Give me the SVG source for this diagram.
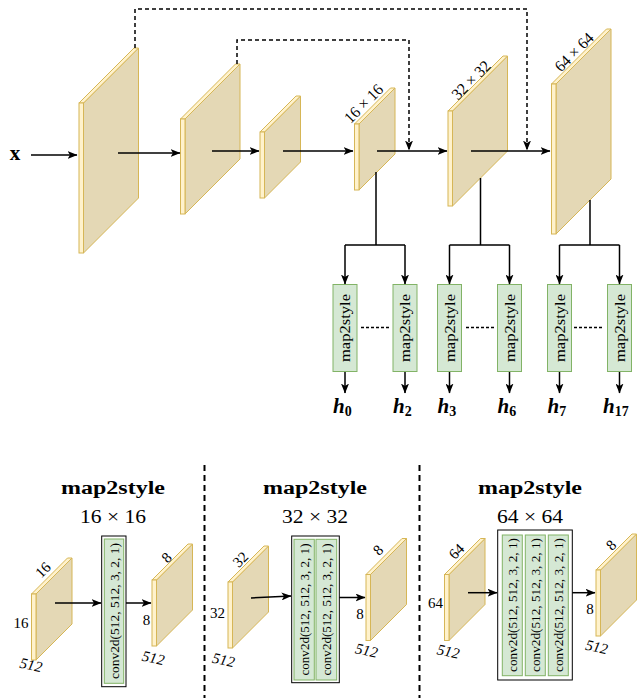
<svg xmlns="http://www.w3.org/2000/svg" width="640" height="698" viewBox="0 0 640 698">
<style>
.face{fill:#e4d8b5;stroke:#d6b656;stroke-width:1}
.strip{fill:#fff2cc;stroke:#d6b656;stroke-width:1}
.ln{fill:none;stroke:#000;stroke-width:1.5}
.arr{marker-end:url(#ah)}
.dash{stroke-dasharray:4 3}
.dot{stroke-dasharray:3 2}
.sep{fill:none;stroke:#000;stroke-width:2;stroke-dasharray:6 4}
.m2s{fill:#d5e8d4;stroke:#82b366;stroke-width:1}
.box{fill:#fff;stroke:#000;stroke-width:1}
.t{font-family:"Liberation Serif","Times New Roman",serif;fill:#000}
.rc{text-anchor:middle;dominant-baseline:central}
.hb{font-family:"Liberation Serif","Times New Roman",serif;font-weight:bold;font-style:italic;font-size:21px}
.sub{font-size:14px;font-style:normal}
</style>
<defs>
<marker id="ah" markerWidth="10" markerHeight="8" refX="9.5" refY="4" orient="auto" markerUnits="userSpaceOnUse"><path d="M0,0 L10,4 L0,8 L2.5,4 Z" fill="#000"/></marker>
<g id="bS"><polygon class="face" points="4.5,0 40.5,-36 40.5,30 4.5,66"/><polygon class="strip" points="0,0 36,-36 40.5,-36 4.5,0"/><rect class="strip" x="0" y="0" width="4.5" height="66"/></g>
<g id="bM"><polygon class="face" points="4.5,0 59.5,-55 59.5,40 4.5,95"/><polygon class="strip" points="0,0 55,-55 59.5,-55 4.5,0"/><rect class="strip" x="0" y="0" width="4.5" height="95"/></g>
<g id="bL"><polygon class="face" points="4.5,0 59.5,-55 59.5,95 4.5,150"/><polygon class="strip" points="0,0 55,-55 59.5,-55 4.5,0"/><rect class="strip" x="0" y="0" width="4.5" height="150"/></g>
</defs>

<!-- encoder blocks -->
<g id="enc1"><use href="#bL" x="79" y="103"/></g>
<g id="enc2"><use href="#bM" x="180.5" y="119"/></g>
<g id="enc3"><use href="#bS" x="260" y="132"/></g>
<g id="enc4"><use href="#bS" x="354.5" y="124"/><text class="t rc" font-size="16" textLength="48" lengthAdjust="spacingAndGlyphs" transform="translate(363.5,103.5) rotate(-45)">16 × 16</text></g>
<g id="enc5"><use href="#bM" x="448" y="111"/><text class="t rc" font-size="16" textLength="48" lengthAdjust="spacingAndGlyphs" transform="translate(471,80) rotate(-45)">32 × 32</text></g>
<g id="enc6"><use href="#bL" x="551.5" y="84"/><text class="t rc" font-size="16" textLength="48" lengthAdjust="spacingAndGlyphs" transform="translate(574,52) rotate(-45)">64 × 64</text></g>

<g id="input-x"><text class="t" font-size="21" font-weight="bold" x="15" y="160" text-anchor="middle">x</text></g>

<!-- map2style boxes -->
<g id="m0"><rect class="m2s" x="333" y="284.5" width="24" height="87"/><text class="t rc" font-size="15" textLength="68" lengthAdjust="spacingAndGlyphs" transform="translate(345,328) rotate(-90)">map2style</text></g>
<g id="m2"><rect class="m2s" x="393" y="284.5" width="24" height="87"/><text class="t rc" font-size="15" textLength="68" lengthAdjust="spacingAndGlyphs" transform="translate(405,328) rotate(-90)">map2style</text></g>
<g id="m3"><rect class="m2s" x="437.5" y="284.5" width="24" height="87"/><text class="t rc" font-size="15" textLength="68" lengthAdjust="spacingAndGlyphs" transform="translate(449.5,328) rotate(-90)">map2style</text></g>
<g id="m6"><rect class="m2s" x="497.5" y="284.5" width="24" height="87"/><text class="t rc" font-size="15" textLength="68" lengthAdjust="spacingAndGlyphs" transform="translate(509.5,328) rotate(-90)">map2style</text></g>
<g id="m7"><rect class="m2s" x="547.5" y="284.5" width="24" height="87"/><text class="t rc" font-size="15" textLength="68" lengthAdjust="spacingAndGlyphs" transform="translate(559.5,328) rotate(-90)">map2style</text></g>
<g id="m17"><rect class="m2s" x="607.5" y="284.5" width="24" height="87"/><text class="t rc" font-size="15" textLength="68" lengthAdjust="spacingAndGlyphs" transform="translate(619.5,328) rotate(-90)">map2style</text></g>

<!-- outputs -->
<g id="h0"><text class="hb" x="333" y="413">h<tspan class="sub" dy="3">0</tspan></text></g>
<g id="h2"><text class="hb" x="393" y="413">h<tspan class="sub" dy="3">2</tspan></text></g>
<g id="h3"><text class="hb" x="437.5" y="413">h<tspan class="sub" dy="3">3</tspan></text></g>
<g id="h6"><text class="hb" x="497.5" y="413">h<tspan class="sub" dy="3">6</tspan></text></g>
<g id="h7"><text class="hb" x="547.5" y="413">h<tspan class="sub" dy="3">7</tspan></text></g>
<g id="h17"><text class="hb" x="603" y="413">h<tspan class="sub" dy="3">17</tspan></text></g>

<!-- connectors -->
<g id="connectors">
<path class="ln arr" d="M31,155 H77"/>
<path class="ln arr" d="M118,153 H180"/>
<path class="ln arr" d="M212,151 H259"/>
<path class="ln arr" d="M283,151 H353"/>
<path class="ln arr" d="M377,151 H447"/>
<path class="ln arr" d="M471,151 H550"/>
<path class="ln arr dash" d="M135,48 V9 H527 V150"/>
<path class="ln arr dash" d="M237,64 V40 H409 V150"/>
<path class="ln" d="M376,172 V245 M345,245 H405 M480.5,178 V245 M449.5,245 H509.5 M590,200 V245 M559.5,245 H619.5"/>
<path class="ln arr" d="M345,245 V284"/>
<path class="ln arr" d="M405,245 V284"/>
<path class="ln arr" d="M449.5,245 V284"/>
<path class="ln arr" d="M509.5,245 V284"/>
<path class="ln arr" d="M559.5,245 V284"/>
<path class="ln arr" d="M619.5,245 V284"/>
<path class="ln arr" d="M345,372 V393"/>
<path class="ln arr" d="M405,372 V393"/>
<path class="ln arr" d="M449.5,372 V393"/>
<path class="ln arr" d="M509.5,372 V393"/>
<path class="ln arr" d="M559.5,372 V393"/>
<path class="ln arr" d="M619.5,372 V393"/>
<path class="ln dot" d="M361,327.5 H389 M466,327.5 H494 M574,327.5 H603"/>
</g>

<!-- bottom: separators -->
<g id="separators">
<path class="sep" d="M204.5,465 V698 M419.5,465 V698"/>
</g>

<!-- panel 1 -->
<g id="panel1">
<text class="t" font-size="18" font-weight="bold" x="113" y="494" text-anchor="middle" textLength="104" lengthAdjust="spacingAndGlyphs">map2style</text>
<text class="t" font-size="18" x="113" y="523" text-anchor="middle" textLength="66" lengthAdjust="spacingAndGlyphs">16 × 16</text>
<use href="#bS" x="31.5" y="594"/>
<text class="t rc" font-size="15" transform="translate(43,570) rotate(-45)">16</text>
<text class="t rc" font-size="15" x="21" y="622.5">16</text>
<text class="t rc" font-size="15" font-style="italic" transform="translate(31,665) rotate(12)">512</text>
<rect class="box" x="101.7" y="536" width="24.3" height="150.7"/>
<rect class="m2s" x="104.3" y="539" width="19.4" height="144.3"/>
<text class="t rc" font-size="13" textLength="136" lengthAdjust="spacingAndGlyphs" transform="translate(114,611) rotate(-90)">conv2d(512, 512, 3, 2, 1)</text>
<use href="#bS" x="152" y="580"/>
<text class="t rc" font-size="15" transform="translate(166.5,557.5) rotate(-45)">8</text>
<text class="t rc" font-size="15" x="146.5" y="620">8</text>
<text class="t rc" font-size="15" font-style="italic" transform="translate(153.3,658) rotate(12)">512</text>
<path class="ln arr" d="M55,603 H101"/>
<path class="ln arr" d="M126,603 H151"/>
</g>

<!-- panel 2 -->
<g id="panel2">
<text class="t" font-size="18" font-weight="bold" x="315" y="494" text-anchor="middle" textLength="104" lengthAdjust="spacingAndGlyphs">map2style</text>
<text class="t" font-size="18" x="315" y="523" text-anchor="middle" textLength="66" lengthAdjust="spacingAndGlyphs">32 × 32</text>
<use href="#bS" x="228" y="582"/>
<text class="t rc" font-size="15" transform="translate(240.5,559.5) rotate(-45)">32</text>
<text class="t rc" font-size="15" x="217.5" y="612.5">32</text>
<text class="t rc" font-size="15" font-style="italic" transform="translate(223.5,660) rotate(12)">512</text>
<rect class="box" x="291.7" y="536" width="47.6" height="146.7"/>
<rect class="m2s" x="294" y="539.3" width="20.3" height="140.7"/>
<rect class="m2s" x="316" y="539.3" width="20.7" height="140.7"/>
<text class="t rc" font-size="13" textLength="132" lengthAdjust="spacingAndGlyphs" transform="translate(304.2,609.5) rotate(-90)">conv2d(512, 512, 3, 2, 1)</text>
<text class="t rc" font-size="13" textLength="132" lengthAdjust="spacingAndGlyphs" transform="translate(326.4,609.5) rotate(-90)">conv2d(512, 512, 3, 2, 1)</text>
<use href="#bS" x="366" y="574.5"/>
<text class="t rc" font-size="15" transform="translate(378,550) rotate(-45)">8</text>
<text class="t rc" font-size="15" x="360" y="614">8</text>
<text class="t rc" font-size="15" font-style="italic" transform="translate(366.5,650.5) rotate(12)">512</text>
<path class="ln arr" d="M251,598 L291,596"/>
<path class="ln arr" d="M339.3,597.5 H365"/>
</g>

<!-- panel 3 -->
<g id="panel3">
<text class="t" font-size="18" font-weight="bold" x="530" y="494" text-anchor="middle" textLength="104" lengthAdjust="spacingAndGlyphs">map2style</text>
<text class="t" font-size="18" x="530" y="523" text-anchor="middle" textLength="66" lengthAdjust="spacingAndGlyphs">64 × 64</text>
<use href="#bS" x="444.5" y="574.5"/>
<text class="t rc" font-size="15" transform="translate(456.5,551.5) rotate(-45)">64</text>
<text class="t rc" font-size="15" x="435.5" y="602.5">64</text>
<text class="t rc" font-size="15" font-style="italic" transform="translate(448.3,651.5) rotate(12)">512</text>
<rect class="box" x="497.7" y="530" width="74.6" height="150"/>
<rect class="m2s" x="502.3" y="535" width="20" height="140.7"/>
<rect class="m2s" x="525.3" y="535" width="20" height="140.7"/>
<rect class="m2s" x="548.3" y="535" width="20" height="140.7"/>
<text class="t rc" font-size="13" textLength="134" lengthAdjust="spacingAndGlyphs" transform="translate(512.3,605) rotate(-90)">conv2d(512, 512, 3, 2, 1)</text>
<text class="t rc" font-size="13" textLength="134" lengthAdjust="spacingAndGlyphs" transform="translate(535.3,605) rotate(-90)">conv2d(512, 512, 3, 2, 1)</text>
<text class="t rc" font-size="13" textLength="134" lengthAdjust="spacingAndGlyphs" transform="translate(558.3,605) rotate(-90)">conv2d(512, 512, 3, 2, 1)</text>
<use href="#bS" x="596" y="570"/>
<text class="t rc" font-size="15" transform="translate(611,545) rotate(-45)">8</text>
<text class="t rc" font-size="15" x="590" y="609">8</text>
<text class="t rc" font-size="15" font-style="italic" transform="translate(596.7,647) rotate(12)">512</text>
<path class="ln arr" d="M468,592.7 H497"/>
<path class="ln arr" d="M572.3,592.7 H595"/>
</g>
</svg>
